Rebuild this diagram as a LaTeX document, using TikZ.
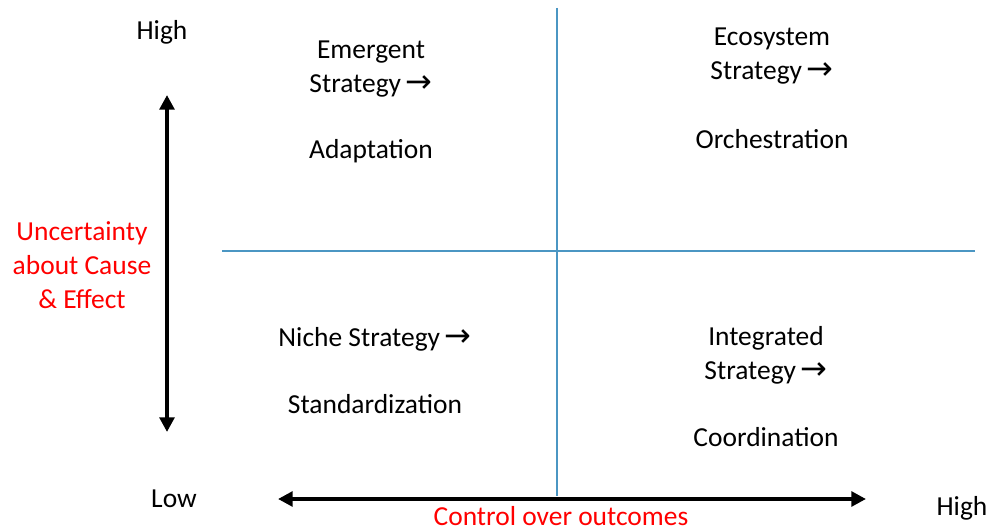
\documentclass[tikz,border=0pt]{standalone}
\usepackage{fontspec}
\setmainfont{Carlito}
\newfontfamily\symfont{DejaVu Sans}
\usetikzlibrary{arrows.meta}
\definecolor{gridblue}{RGB}{75,150,195}
\newcommand{\rarr}{\,{\symfont\fontsize{24pt}{20pt}\selectfont→}}
\begin{document}
\begin{tikzpicture}[x=0.75pt,y=-0.75pt,
    lbl/.style={align=center,font=\fontsize{20.6pt}{25.5pt}\selectfont,inner sep=0pt},
    redlbl/.style={lbl,text=red},
    axis/.style={line width=3pt,{Triangle[length=11pt,width=11pt]}-{Triangle[length=11pt,width=11pt]}},
    grid/.style={gridblue,line width=1.1pt}]
  \useasboundingbox (0,0) rectangle (999,531);
  \draw[lbl]
    (162,32) node (highy){High}
    (174,499) node (lowx){Low}
    (962,508) node (highx){High}
    (371,69) node (emergent){Emergent\\Strategy\rarr}
    (371,151) node (adapt){Adaptation}
    (772,56.5) node (ecosystem){Ecosystem\\Strategy\rarr}
    (772,139) node (orch){Orchestration}
    (375,339) node (niche){Niche Strategy\rarr}
    (375,404) node (stand){Standardization}
    (766,355) node (integrated){Integrated\\Strategy\rarr}
    (766,437) node (coord){Coordination};
  \draw[redlbl]
    (82,265) node (uncert){Uncertainty\\about Cause\\\& Effect}
    (561,516) node (control){Control over outcomes};
  % quadrant lines
  \coordinate (vtop) at (557,8);
  \coordinate (vbot) at (557,496);
  \coordinate (hleft) at (222,251);
  \coordinate (hright) at (975,251);
  \draw[grid] (vtop) -- (vbot);
  \draw[grid] (hleft) -- (hright);
  % axes
  \coordinate (ytop) at (167,95);
  \coordinate (ybot) at (167,432);
  \coordinate (xleft) at (278,499);
  \coordinate (xright) at (866,499);
  \begin{scope}[axis]
    \draw (ybot) to (ytop);
    \draw (xleft) to (xright);
  \end{scope}
\end{tikzpicture}
\end{document}
